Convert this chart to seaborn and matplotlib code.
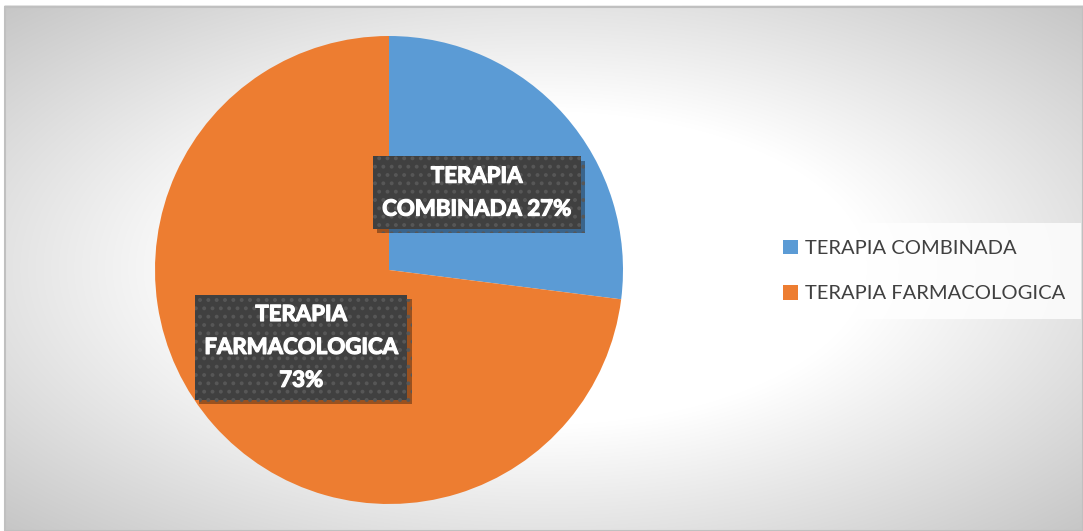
import numpy as np
import matplotlib
matplotlib.use("Agg")
import matplotlib.pyplot as plt
import matplotlib.patheffects as pe
import seaborn as sns

# ---- data ----
categories = ["TERAPIA COMBINADA", "TERAPIA FARMACOLOGICA"]
values = [27, 73]
data_labels = ["TERAPIA\nCOMBINADA 27%", "TERAPIA\nFARMACOLOGICA\n73%"]
colors = ["#5B9BD5", "#ED7D31"]

sns.set_theme(style="white")
plt.rcParams["font.family"] = ["Lato", "DejaVu Sans"]
plt.rcParams["hatch.linewidth"] = 1.6

W, H = 1083, 531
fig = plt.figure(figsize=(W / 100, H / 100), dpi=100)
fig.patch.set_facecolor("white")

# background gradient (chart area)
bg = fig.add_axes([0, 0, 1, 1], zorder=0)
yy, xx = np.mgrid[0:H, 0:W]
x0, y0 = 5, 7
cw, ch = W - x0, H - y0
u = (xx - (x0 + 0.5 * cw)) / cw
v = (yy - (y0 + 0.5 * ch)) / ch
d = np.sqrt(u ** 2 + v ** 2)
val = np.clip(255 - 140 * np.clip(d - 0.3, 0, None), 190, 255) / 255.0
val[(xx < x0) | (yy < y0)] = 1.0
img = np.dstack([val, val, val])
bg.imshow(img, aspect="auto", interpolation="bilinear")
bg.plot([x0, W, W, x0, x0], [y0, y0, H, H, y0], color="#c0c0c0", lw=1.5)
bg.set_xlim(0, W)
bg.set_ylim(H, 0)
bg.axis("off")

# pie axes
R = 234
cx, cy = 389, H - 270
ax = fig.add_axes([(cx - R) / W, (cy - R) / H, 2 * R / W, 2 * R / H], zorder=1)
ax.set_facecolor("none")
wedges, texts = ax.pie(values, colors=colors, startangle=90, counterclock=False,
                       labels=data_labels, labeldistance=0.5,
                       wedgeprops=dict(linewidth=0))
ax.set_xlim(-1, 1)
ax.set_ylim(-1, 1)
ax.set_aspect("equal")
ax.axis("off")

for t in texts:
    t.set_ha("center")
    t.set_va("center")
    t.set_multialignment("center")
    t.set_fontsize(16)
    t.set_fontweight("bold")
    t.set_color("white")
    t.set_linespacing(1.7)
    t.set_zorder(4)
    t.set_path_effects([pe.withStroke(linewidth=0.9, foreground="white")])
    t.set_bbox(dict(boxstyle="square,pad=0.42", facecolor="#404040",
                    edgecolor="#575757", linewidth=0.0, hatch=".."))
    t.get_bbox_patch().set_path_effects(
        [pe.SimplePatchShadow(offset=(3, -3), shadow_rgbFace="black", alpha=0.35),
         pe.Normal()])

leg = fig.legend(wedges, categories, loc="center",
                 bbox_to_anchor=(924 / W, 1 - 271 / H), bbox_transform=fig.transFigure,
                 frameon=True, fontsize=14.5, handlelength=0.75, handleheight=0.75,
                 handletextpad=0.35, labelspacing=1.4, borderpad=0.8,
                 borderaxespad=0, fancybox=False)
leg.get_frame().set_facecolor((1, 1, 1, 0.45))
leg.get_frame().set_edgecolor("none")
for txt in leg.get_texts():
    txt.set_color("#404040")

fig.savefig("out.png", dpi=100, facecolor=fig.get_facecolor())
